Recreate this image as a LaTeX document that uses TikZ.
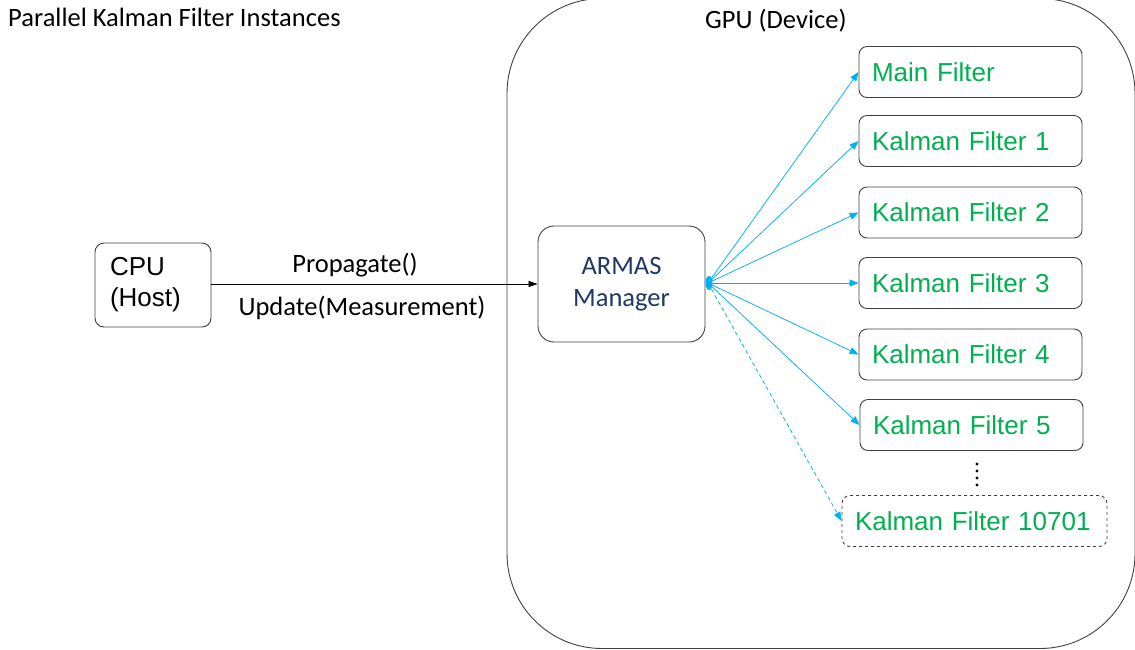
\documentclass[tikz,border=0pt]{standalone}
\usepackage{fontspec}
\setmainfont{Carlito}
\newfontfamily\arialf{Liberation Sans}
\usetikzlibrary{arrows.meta}
\definecolor{boxline}{RGB}{64,64,64}
\definecolor{kfgreen}{RGB}{0,176,80}
\definecolor{navy}{RGB}{31,56,100}
\definecolor{arrowblue}{RGB}{0,176,240}
\begin{document}
\begin{tikzpicture}[x=1pt,y=-1pt,
  lbl/.style={font=\fontsize{26.5}{31}\selectfont, inner sep=0pt},
  filterbox/.style={draw=boxline, line width=0.9pt, rounded corners=8pt, minimum width=223pt, minimum height=51pt, text width=197pt, align=left, inner xsep=13pt, inner ysep=0pt, font=\arialf\fontsize{26}{31}\selectfont, text=kfgreen},
  fanarrow/.style={draw=arrowblue, line width=0.75pt, -{Triangle[length=9pt,width=7pt,fill=arrowblue]}},
]
\useasboundingbox (0,0) rectangle (1135,649);
% GPU device container
\draw[line width=0.9pt, draw=black!75, rounded corners=95pt] (507,-1.5) rectangle (1135,648.5);

\node[lbl, anchor=base west] (title) at (8,26) {Parallel Kalman Filter Instances};
\node[lbl, anchor=base west] (gpu) at (705,28) {GPU (Device)};

\node[draw=boxline, line width=0.9pt, rounded corners=9pt, minimum width=116pt, minimum height=84pt, text width=86pt, align=left, inner xsep=15pt, inner ysep=0pt, font=\arialf\fontsize{26}{31}\selectfont] (cpu) at (153,285) {CPU\\(Host)};

\node[draw=boxline, line width=0.9pt, rounded corners=16pt, minimum width=167pt, minimum height=116pt, align=center, inner sep=0pt, text=navy, font=\fontsize{26.5}{32}\selectfont] (armas) at (621.5,284) {ARMAS\\Manager};

\draw[line width=0.8pt, -{Triangle[length=9pt,width=6pt]}] (cpu.east |- armas.west) -- (armas.west);
\node[lbl, anchor=base] (prop) at (355,272) {Propagate()};
\node[lbl, anchor=base] (upd) at (362,315) {Update(Measurement)};

\node[filterbox] (mf) at (970.5,72) {Main Filter};
\node[filterbox] (k1) at (970.5,141) {Kalman Filter 1};
\node[filterbox] (k2) at (970.5,212.5) {Kalman Filter 2};
\node[filterbox] (k3) at (970.5,283) {Kalman Filter 3};
\node[filterbox] (k4) at (970.5,354.5) {Kalman Filter 4};
\node[filterbox] (k5) at (971.5,425) {Kalman Filter 5};
\node[filterbox, dashed, minimum width=265pt, text width=239pt] (kl) at (974.5,521) {Kalman Filter 10701};

\coordinate (hub) at (708,283);
\foreach \n in {mf,k1,k2,k3,k4,k5} \draw[fanarrow] (hub) -- (\n.west);
\draw[fanarrow, dash pattern=on 4pt off 3pt] (hub) -- (kl.west);
\fill[arrowblue] (709,283) ellipse (3.5 and 7);

\foreach \yy in {464,471,478,485} \fill (977,\yy) circle (1.7);
\end{tikzpicture}
\end{document}
